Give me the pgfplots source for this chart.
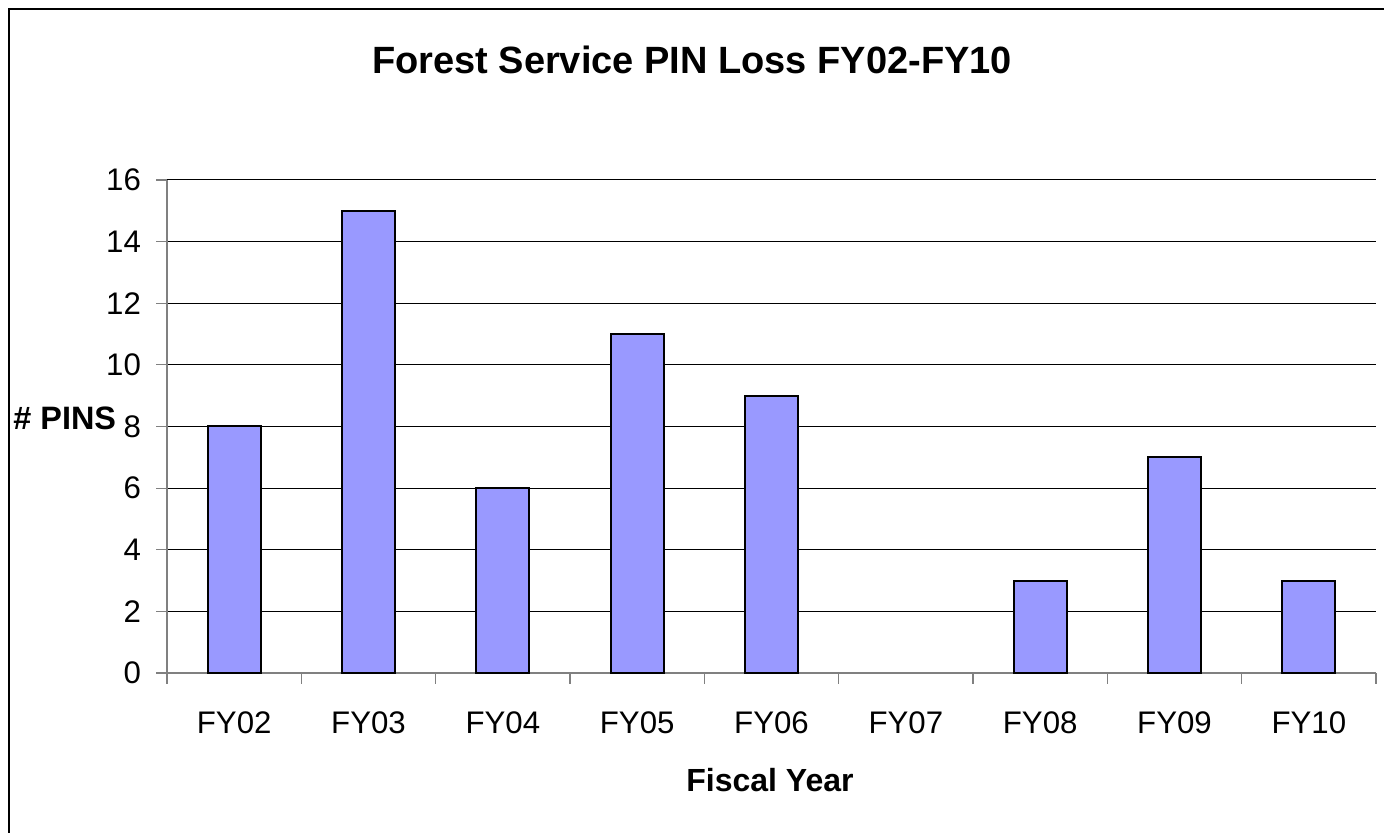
\documentclass[border=0pt]{standalone}
\usepackage{pgfplots}
\pgfplotsset{compat=1.18}
\usepackage{fontspec}
\setmainfont{Liberation Sans}
\definecolor{barblue}{HTML}{9999FF}
\definecolor{axgray}{HTML}{808080}
\begin{document}
\begin{tikzpicture}
\useasboundingbox (0pt,0pt) rectangle (692pt,416.5pt);
\draw[line width=1.2pt] (4.5pt,0pt) -- (4.5pt,412pt) -- (692pt,412pt);
\begin{axis}[
  at={(83.5pt,80pt)}, anchor=south west,
  scale only axis, width=604.5pt, height=246.5pt,
  xmin=-0.5, xmax=8.5, ymin=0, ymax=16,
  ytick={0,2,...,16},
  xtick={0,...,8},
  xticklabels={FY02,FY03,FY04,FY05,FY06,FY07,FY08,FY09,FY10},
  minor xtick={-0.5,0.5,...,8.5},
  major x tick style={draw=none},
  tick align=outside,
  major tick length=5.5pt, minor tick length=5.5pt,
  tick style={axgray, line width=0.6pt},
  axis x line*=bottom, axis y line*=left,
  axis line style={axgray, line width=0.8pt, -},
  ymajorgrids, grid style={black, line width=0.5pt},
  /pgf/number format/assume math mode=true,
  ticklabel style={font=\fontsize{15.6}{18}\selectfont},
  xticklabel style={yshift=-10.5pt},
  yticklabel style={xshift=-4pt},
  ybar, bar width=26.5pt,
  clip=false,
]
\addplot[fill=barblue, draw=black, line width=1pt] coordinates {
  (0,8) (1,15) (2,6) (3,11) (4,9) (6,3) (7,7) (8,3)
};
\end{axis}
\node[font=\bfseries\fontsize{19}{22}\selectfont] at (346pt,386.5pt) {Forest Service PIN Loss FY02-FY10};
\node[font=\bfseries\fontsize{16}{19}\selectfont] at (385pt,26.5pt) {Fiscal Year};
\node[font=\bfseries\fontsize{16.2}{19}\selectfont, anchor=west, inner sep=0pt] at (6.5pt,207.5pt) {\# PINS};
\end{tikzpicture}
\end{document}
